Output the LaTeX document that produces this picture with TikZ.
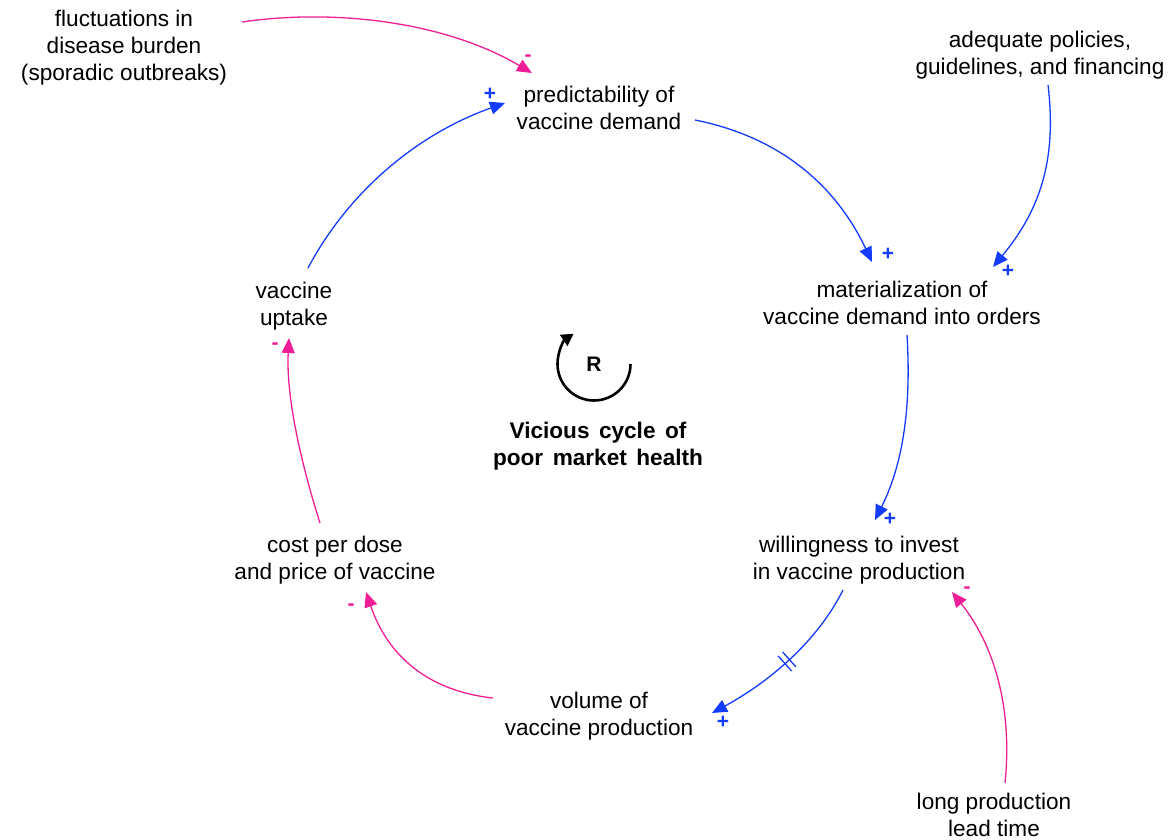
\documentclass[tikz,border=0pt]{standalone}
\usepackage{fontspec}
\setmainfont{Liberation Sans}
\usetikzlibrary{arrows.meta,decorations.markings}
\definecolor{linkblue}{RGB}{20,60,255}
\definecolor{linkpink}{RGB}{240,30,150}
\newcommand{\wordgap}{\hspace{0.42em}}

\begin{document}
\begin{tikzpicture}[x=1pt, y=-1pt,
  var/.style={align=center, inner sep=0pt, font=\fontsize{22.6}{27}\selectfont},
  looptitle/.style={align=center, inner sep=0pt,
    font=\bfseries\fontsize{22.6}{27}\selectfont},
  link/.style={line width=1.3pt, -{Triangle[length=15pt,width=13pt]}},
  poslink/.style={link, linkblue},
  neglink/.style={link, linkpink},
  pol/.style={inner sep=0pt, font=\bfseries\fontsize{21}{21}\selectfont},
  plus/.style={pol, text=linkblue},
  minus/.style={pol, text=linkpink},
  delay/.style={postaction={decorate}, decoration={markings,
    mark=at position 0.5 with {\draw[linkblue, line width=1.3pt, -]
      (-3pt,-10pt) -- (-3pt,10pt) (3pt,-10pt) -- (3pt,10pt);}}}
]
\fill[white] (0,0) rectangle (1170,839);
\useasboundingbox (0,0) rectangle (1170,839);

% variables
\node[var] (fl) at (124,48) {fluctuations in\\disease burden\\(sporadic outbreaks)};
\node[var] (pd) at (599,108) {predictability of\\vaccine demand};
\node[var] (ad) at (1040,55) {adequate policies,\\guidelines, and financing};
\node[var] (mt) at (902,303) {materialization of\\vaccine demand into orders};
\node[var] (up) at (294,306) {vaccine\\uptake};
\node[var] (cs) at (335,560) {cost per dose\\and price of vaccine};
\node[var] (wi) at (859,560) {willingness to invest\\in vaccine production};
\node[var] (vo) at (599,716) {volume of\\vaccine production};
\node[var] (lg) at (994,815) {long production\\lead time};

% loop marker and loop name
\node[inner sep=0pt, font=\bfseries\fontsize{21}{21}\selectfont] (R) at (594,364) {R};
\draw[line width=2.6pt, -{Triangle[length=12pt,width=13pt]}]
  ([xshift=36.5pt]R.center) arc[start angle=0, end angle=236, radius=36.5];
\node[looptitle] (tt) at (598,446) {Vicious\wordgap cycle\wordgap of\\poor\wordgap market\wordgap health};

% causal links
\draw[neglink] ([shift={(118,-26)}]fl.center) .. controls (330,9) and (442,20) .. ([shift={(-67,-35)}]pd.center);
\draw[poslink] ([shift={(14,-38)}]up.center) .. controls (350,189) and (420,133) .. ([shift={(-94,-5)}]pd.center);
\draw[poslink] ([shift={(96,12)}]pd.center) .. controls (785,138) and (838,190) .. ([shift={(-30,-41)}]mt.center);
\draw[poslink] ([shift={(8,30)}]ad.center) .. controls (1057,160) and (1040,210) .. ([shift={(91,-36)}]mt.center);
\draw[poslink] ([shift={(5,32)}]mt.center) .. controls (911,400) and (905,460) .. ([shift={(16,-40)}]wi.center);
\draw[poslink, delay] ([shift={(-16,30)}]wi.center) .. controls (814,648) and (760,687) .. ([shift={(113,-3)}]vo.center);
\draw[neglink] ([shift={(-106,-18)}]vo.center) .. controls (420,690) and (385,648) .. ([shift={(31,32)}]cs.center);
\draw[neglink] ([shift={(-15,-37)}]cs.center) .. controls (300,460) and (286,395) .. ([shift={(-5,32)}]up.center);
\draw[neglink] ([shift={(11,-32)}]lg.center) .. controls (1012,715) and (998,650) .. ([shift={(93,32)}]wi.center);

% link polarities
\node[minus] (s1) at (528,58) {-};
\node[plus]  (s2) at (490,94) {+};
\node[plus]  (s3) at (888,254) {+};
\node[plus]  (s4) at (1008,271) {+};
\node[plus]  (s5) at (890,519) {+};
\node[plus]  (s6) at (723,722) {+};
\node[minus] (s7) at (351,607) {-};
\node[minus] (s8) at (275,346) {-};
\node[minus] (s9) at (967,590) {-};
\end{tikzpicture}
\end{document}
